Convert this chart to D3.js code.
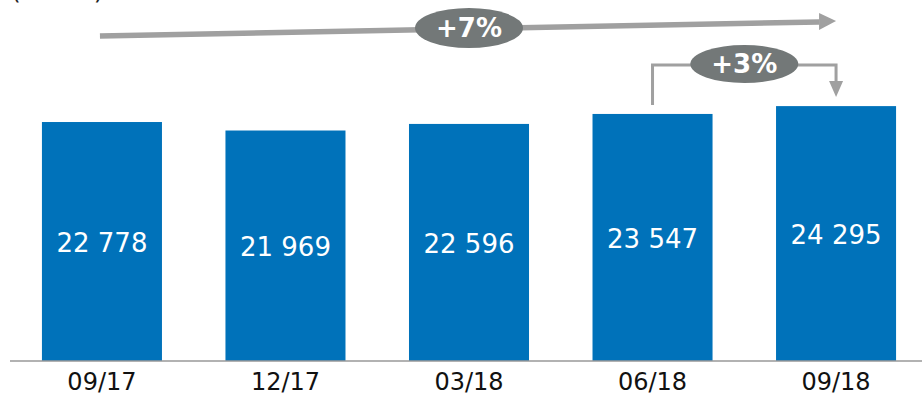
<!DOCTYPE html>
<html>
<head>
<meta charset="utf-8">
<script src="https://cdn.jsdelivr.net/npm/d3@7"></script>
<style>
  body { margin: 0; background: #fff; }
  svg { display: block; font-family: Verdana, "DejaVu Sans", sans-serif; }
</style>
</head>
<body>
<div id="chart"></div>
<script>
var categories = ['09/17', '12/17', '03/18', '06/18', '09/18'];
var values = [22778, 21969, 22596, 23547, 24295];
var valueLabels = ['22 778', '21 969', '22 596', '23 547', '24 295'];
var unitLabel = '(MEUR)';
var growthTotal = '+7%';
var growthQuarter = '+3%';

var width = 922, height = 396;
var baseY = 361;

var svg = d3.select('#chart').append('svg')
  .attr('width', width)
  .attr('height', height);

// scales
var x = d3.scaleBand().domain(categories)
  .range([10, 928])
  .paddingInner(0.346)
  .paddingOuter(0.174);
var y = d3.scaleLinear().domain([0, 24000]).range([baseY, baseY - 251.8]);

// unit label, cut off at the top edge like the source slide
svg.append('text')
  .attr('x', 11)
  .attr('y', -1)
  .attr('font-size', 25)
  .attr('fill', '#222')
  .text(unitLabel);

// bars
svg.selectAll('rect.bar')
  .data(values)
  .enter().append('rect')
  .attr('class', 'bar')
  .attr('x', function(d, i) { return x(categories[i]); })
  .attr('y', function(d) { return y(d); })
  .attr('width', x.bandwidth())
  .attr('height', function(d) { return baseY - y(d); })
  .attr('fill', '#0072ba');

// values inside bars
svg.selectAll('text.val')
  .data(values)
  .enter().append('text')
  .attr('class', 'val')
  .attr('x', function(d, i) { return x(categories[i]) + x.bandwidth() / 2; })
  .attr('y', function(d) { return (y(d) + baseY) / 2 + 1; })
  .attr('dy', '0.35em')
  .attr('text-anchor', 'middle')
  .attr('font-size', 26)
  .attr('fill', '#fff')
  .text(function(d, i) { return valueLabels[i]; });

// x axis
var xAxis = svg.append('g')
  .attr('transform', 'translate(0,' + baseY + ')')
  .call(d3.axisBottom(x).tickSize(0).tickPadding(12));
xAxis.select('.domain').remove();
xAxis.append('line')
  .attr('x1', 10).attr('x2', width)
  .attr('stroke', '#999').attr('stroke-width', 1.5);
xAxis.selectAll('text')
  .attr('font-size', 24)
  .attr('font-family', 'Verdana, "DejaVu Sans", sans-serif')
  .attr('fill', '#111');

var lineGrey = '#a0a0a0';
var pillGrey = '#737878';
var cx = function(c) { return x(c) + x.bandwidth() / 2; };

// +7% long arrow
var a0 = { x: cx(categories[0]) - 2, y: 36 };
var a1 = { x: cx(categories[4]) - 17, y: 22 };
svg.append('line')
  .attr('x1', a0.x).attr('y1', a0.y)
  .attr('x2', a1.x).attr('y2', a1.y)
  .attr('stroke', lineGrey).attr('stroke-width', 5.5);
svg.append('path')
  .attr('d', 'M' + a1.x + ',' + (a1.y - 9) + 'L' + (a1.x + 17) + ',' + (a1.y - 1) + 'L' + a1.x + ',' + (a1.y + 8) + 'Z')
  .attr('fill', lineGrey);

var p1 = { x: cx(categories[2]), y: 28 };
svg.append('ellipse')
  .attr('cx', p1.x).attr('cy', p1.y)
  .attr('rx', 54).attr('ry', 20)
  .attr('fill', pillGrey);
svg.append('text')
  .attr('x', p1.x).attr('y', p1.y)
  .attr('dy', '0.36em')
  .attr('text-anchor', 'middle')
  .attr('font-size', 26).attr('font-weight', 'bold')
  .attr('fill', '#fff')
  .text(growthTotal);

// +3% bracket arrow
var bx0 = cx(categories[3]), bx1 = cx(categories[4]);
var by0 = y(values[3]) - 9, by1 = y(values[4]) - 9, topY = 65;
svg.append('path')
  .attr('d', 'M' + bx0 + ',' + by0 + 'V' + topY + 'H' + bx1 + 'V' + (by1 - 14))
  .attr('fill', 'none')
  .attr('stroke', lineGrey).attr('stroke-width', 3);
svg.append('path')
  .attr('d', 'M' + (bx1 - 7) + ',' + (by1 - 16) + 'L' + (bx1 + 7) + ',' + (by1 - 16) + 'L' + bx1 + ',' + by1 + 'Z')
  .attr('fill', lineGrey);

var p2 = { x: (bx0 + bx1) / 2, y: 64 };
svg.append('ellipse')
  .attr('cx', p2.x).attr('cy', p2.y)
  .attr('rx', 54).attr('ry', 19)
  .attr('fill', pillGrey);
svg.append('text')
  .attr('x', p2.x).attr('y', p2.y)
  .attr('dy', '0.36em')
  .attr('text-anchor', 'middle')
  .attr('font-size', 26).attr('font-weight', 'bold')
  .attr('fill', '#fff')
  .text(growthQuarter);
</script>
</body>
</html>
